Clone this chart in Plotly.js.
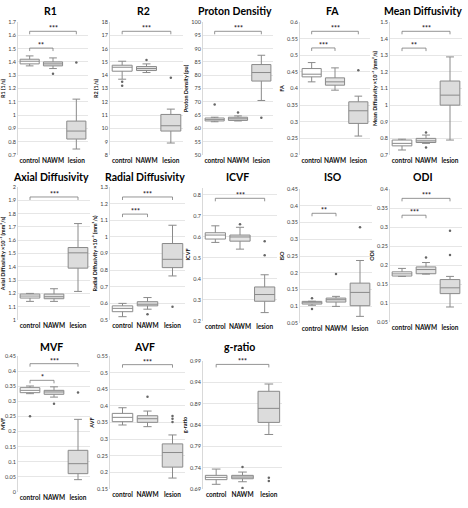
<!DOCTYPE html>
<html><head><meta charset="utf-8">
<script src="https://cdn.plot.ly/plotly-3.0.1.min.js"></script>
<style>html,body{margin:0;padding:0;background:#fff}#chart{width:468px;height:508px}</style>
</head><body><div id="chart"></div>
<script>
const categories = ['control', 'NAWM', 'lesion'];
const panelTitles = ['R1', 'R2', 'Proton Densitiy', 'FA', 'Mean Diffusivity', 'Axial Diffusivity', 'Radial Diffusivity', 'ICVF', 'ISO', 'ODI', 'MVF', 'AVF', 'g-ratio'];
const yTitles = ['R1 (1/s)', 'R2 (1/s)', 'Proton Density (pu)', 'FA', 'Mean Diffusivity ×10⁻³ (mm²/s)', 'Axial Diffusivity ×10⁻³ (mm²/s)', 'Radial Diffusivity ×10⁻³ (mm²/s)', 'ICVF', 'ISO', 'ODI', 'MVF', 'AVF', 'g-ratio'];

// per panel: [control, NAWM, lesion]
const q1Values = [
  [1.385, 1.37, 0.82], [14.3, 14.35, 9.8], [62.8, 63.0, 77.8], [0.435, 0.41, 0.295], [0.755, 0.775, 1.0],
  [1.165, 1.16, 1.39], [0.55, 0.585, 0.815], [0.59, 0.58, 0.294], [0.1066, 0.1125, 0.1016], [0.171, 0.177, 0.1247],
  [0.3287, 0.3232, 0.0607], [0.3525, 0.3505, 0.2158], [0.7119, 0.714, 0.8461]
];
const medianValues = [
  [1.405, 1.385, 0.88], [14.6, 14.5, 10.2], [63.3, 63.6, 81], [0.443, 0.42, 0.333], [0.77, 0.785, 1.06],
  [1.18, 1.175, 1.505], [0.57, 0.595, 0.865], [0.609, 0.6, 0.326], [0.1105, 0.1195, 0.1413], [0.1766, 0.188, 0.14],
  [0.3364, 0.331, 0.0937], [0.3655, 0.3614, 0.2597], [0.7173, 0.718, 0.879]
];
const q3Values = [
  [1.42, 1.40, 0.955], [14.75, 14.65, 11.05], [63.9, 64.2, 84], [0.46, 0.432, 0.36], [0.79, 0.80, 1.145],
  [1.195, 1.195, 1.545], [0.585, 0.61, 0.96], [0.62, 0.609, 0.362], [0.1145, 0.1244, 0.169], [0.182, 0.195, 0.1617],
  [0.3452, 0.3364, 0.1379], [0.3774, 0.3704, 0.2857], [0.722, 0.722, 0.919]
];
const lowerValues = [
  [1.37, 1.35, 0.745], [13.7, 14.2, 8.9], [62.5, 62.8, 70.5], [0.42, 0.395, 0.257], [0.73, 0.77, 0.79],
  [1.14, 1.14, 1.215], [0.52, 0.565, 0.765], [0.574, 0.542, 0.24], [0.103, 0.0996, 0.0698], [0.170, 0.176, 0.0895],
  [0.3254, 0.314, 0.0408], [0.3425, 0.3375, 0.1829], [0.701, 0.707, 0.8178]
];
const upperValues = [
  [1.445, 1.43, 1.12], [15.05, 14.85, 11.45], [64.2, 64.7, 87.5], [0.478, 0.462, 0.377], [0.795, 0.82, 1.29],
  [1.2, 1.235, 1.725], [0.6, 0.635, 1.07], [0.653, 0.646, 0.42], [0.115, 0.1295, 0.2366], [0.191, 0.2065, 0.17],
  [0.3507, 0.348, 0.2404], [0.3944, 0.3844, 0.3126], [0.7367, 0.7297, 0.9361]
];
// outliers: category index and value
const outlierCats = [
  [1, 2], [0, 0, 1, 2], [0, 1, 2], [2], [1, 1],
  [], [1, 2], [1, 2, 2], [0, 0, 1, 2], [1, 2, 2],
  [0, 1, 2], [1, 2, 2, 2], [1, 1, 2, 2]
];
const outlierValues = [
  [1.31, 1.395], [13.5, 13.2, 15.15, 13.8], [69, 66, 64], [0.455], [0.835, 0.745],
  [], [0.535, 0.58], [0.66, 0.58, 0.513], [0.124, 0.092, 0.196, 0.336], [0.22, 0.29, 0.226],
  [0.2504, 0.292, 0.329], [0.4273, 0.3695, 0.3614, 0.3515], [0.7414, 0.6923, 0.7166, 0.7088]
];
// significance brackets
const bracketLesion = [1.63, 17.3, 96.5, 0.572, 1.444, 1.925, 1.24, 0.784, null, 0.3754, 0.4246, 0.524, 0.982];
const starsLesion = ['***', '***', '***', '***', '***', '***', '***', '***', '', '***', '***', '***', '***'];
const bracketNawm = [1.504, null, null, 0.522, 1.343, null, 1.137, null, 0.3775, 0.331, 0.3695, null, null];
const starsNawm = ['**', '', '', '***', '**', '', '***', '', '**', '***', '*', '', ''];
const yRanges = [
  [0.7, 1.7], [8, 18], [50, 100], [0.2, 0.6], [0.7, 1.5],
  [1, 2], [0.5, 1.3], [0.2, 0.833], [0.05, 0.45], [0.05, 0.4],
  [0, 0.45], [0.15, 0.55], [0.69, 0.99]
];
const yDticks = [0.1, 1, 5, 0.05, 0.1, 0.1, 0.1, 0.1, 0.05, 0.05, 0.05, 0.05, 0.05];

// layout (pixel rectangles: left, right, top, bottom)
const W = 468, H = 508;
const rects = [
  [18, 88, 22, 155], [110, 183, 22, 155], [203, 273, 22, 155], [300, 370, 22, 155], [390, 462, 22, 155],
  [18, 90, 187, 320], [110, 185, 187, 320], [203, 277, 188, 321], [300, 372, 189, 323], [390, 462, 189, 322],
  [18, 90, 356, 492], [110, 185, 356, 489], [203, 282, 361, 489]
];
const titleY = [11, 11, 11, 11, 11, 177, 177, 177, 177, 177, 347, 347, 347];
const fills = ['#ffffff', '#e4e4e4', '#dcdcdc'];
const lineCol = '#8a8a8a';
const FONT = 'Lato, "Open Sans", sans-serif';

const traces = [];
const layout = {
  width: W, height: H, margin: {l: 0, r: 0, t: 0, b: 0},
  showlegend: false, paper_bgcolor: '#fff', plot_bgcolor: '#fff',
  font: {family: FONT}, annotations: [], hovermode: false
};

for (let i = 0; i < 13; i++) {
  const n = i === 0 ? '' : String(i + 1);
  const xa = 'x' + n, ya = 'y' + n;
  const [l, r, t, b] = rects[i];
  const span = yRanges[i][1] - yRanges[i][0];
  layout['xaxis' + n] = {
    domain: [l / W, r / W], range: [-0.5, 2.5], tickvals: [0, 1, 2], ticktext: categories,
    showgrid: false, zeroline: false, showline: false, ticks: '', anchor: ya, fixedrange: true,
    tickangle: 0, ticklabelstandoff: 0,
    tickfont: {size: 6.5, color: '#111', family: FONT, weight: 'bold'}
  };
  layout['yaxis' + n] = {
    domain: [1 - b / H, 1 - t / H], range: yRanges[i], dtick: yDticks[i], tick0: yRanges[i][0],
    showgrid: true, gridcolor: '#e6e6e6', gridwidth: 1, zeroline: false,
    showline: true, linecolor: '#d9d9d9', linewidth: 1, ticks: '', anchor: xa, fixedrange: true,
    tickfont: {size: 5.5, color: '#404040', family: FONT},
    title: {text: yTitles[i], font: {size: 5.5, color: '#111', family: FONT, weight: 'bold'}, standoff: 2}
  };
  for (let c = 0; c < 3; c++) {
    traces.push({
      type: 'box', xaxis: xa, yaxis: ya, x: [c],
      q1: [q1Values[i][c]], median: [medianValues[i][c]], q3: [q3Values[i][c]],
      lowerfence: [lowerValues[i][c]], upperfence: [upperValues[i][c]],
      width: 0.82, whiskerwidth: 0.4, boxpoints: false,
      fillcolor: fills[c], line: {color: lineCol, width: 1}, hoverinfo: 'skip'
    });
  }
  if (outlierValues[i].length) {
    traces.push({
      type: 'scatter', mode: 'markers', xaxis: xa, yaxis: ya,
      x: outlierCats[i], y: outlierValues[i],
      marker: {symbol: 'circle', size: 2.5, color: '#666'}, hoverinfo: 'skip'
    });
  }
  const depth = span * 3 / (b - t);
  const addBracket = (x0, x1, lvl, stars) => {
    if (lvl === null) return;
    traces.push({
      type: 'scatter', mode: 'lines', xaxis: xa, yaxis: ya,
      x: [x0, x0, x1, x1], y: [lvl - depth, lvl, lvl, lvl - depth],
      line: {color: '#7a7a7a', width: 0.8}, hoverinfo: 'skip'
    });
    layout.annotations.push({
      xref: xa, yref: ya, x: (x0 + x1) / 2, y: lvl, text: stars, showarrow: false,
      yanchor: 'bottom', yshift: -3, font: {size: 7, color: '#222', family: FONT, weight: 'bold'}
    });
  };
  addBracket(0, 2, bracketLesion[i], starsLesion[i]);
  addBracket(0, 1, bracketNawm[i], starsNawm[i]);
  layout.annotations.push({
    xref: 'paper', yref: 'paper', x: ((l + r) / 2 - 3) / W, y: 1 - titleY[i] / H,
    text: panelTitles[i], showarrow: false, xanchor: 'center', yanchor: 'middle',
    font: {size: 10.5, color: '#000', family: FONT, weight: 'bold'}
  });
}

Plotly.newPlot('chart', traces, layout, {staticPlot: true, displayModeBar: false});
</script>
</body></html>
